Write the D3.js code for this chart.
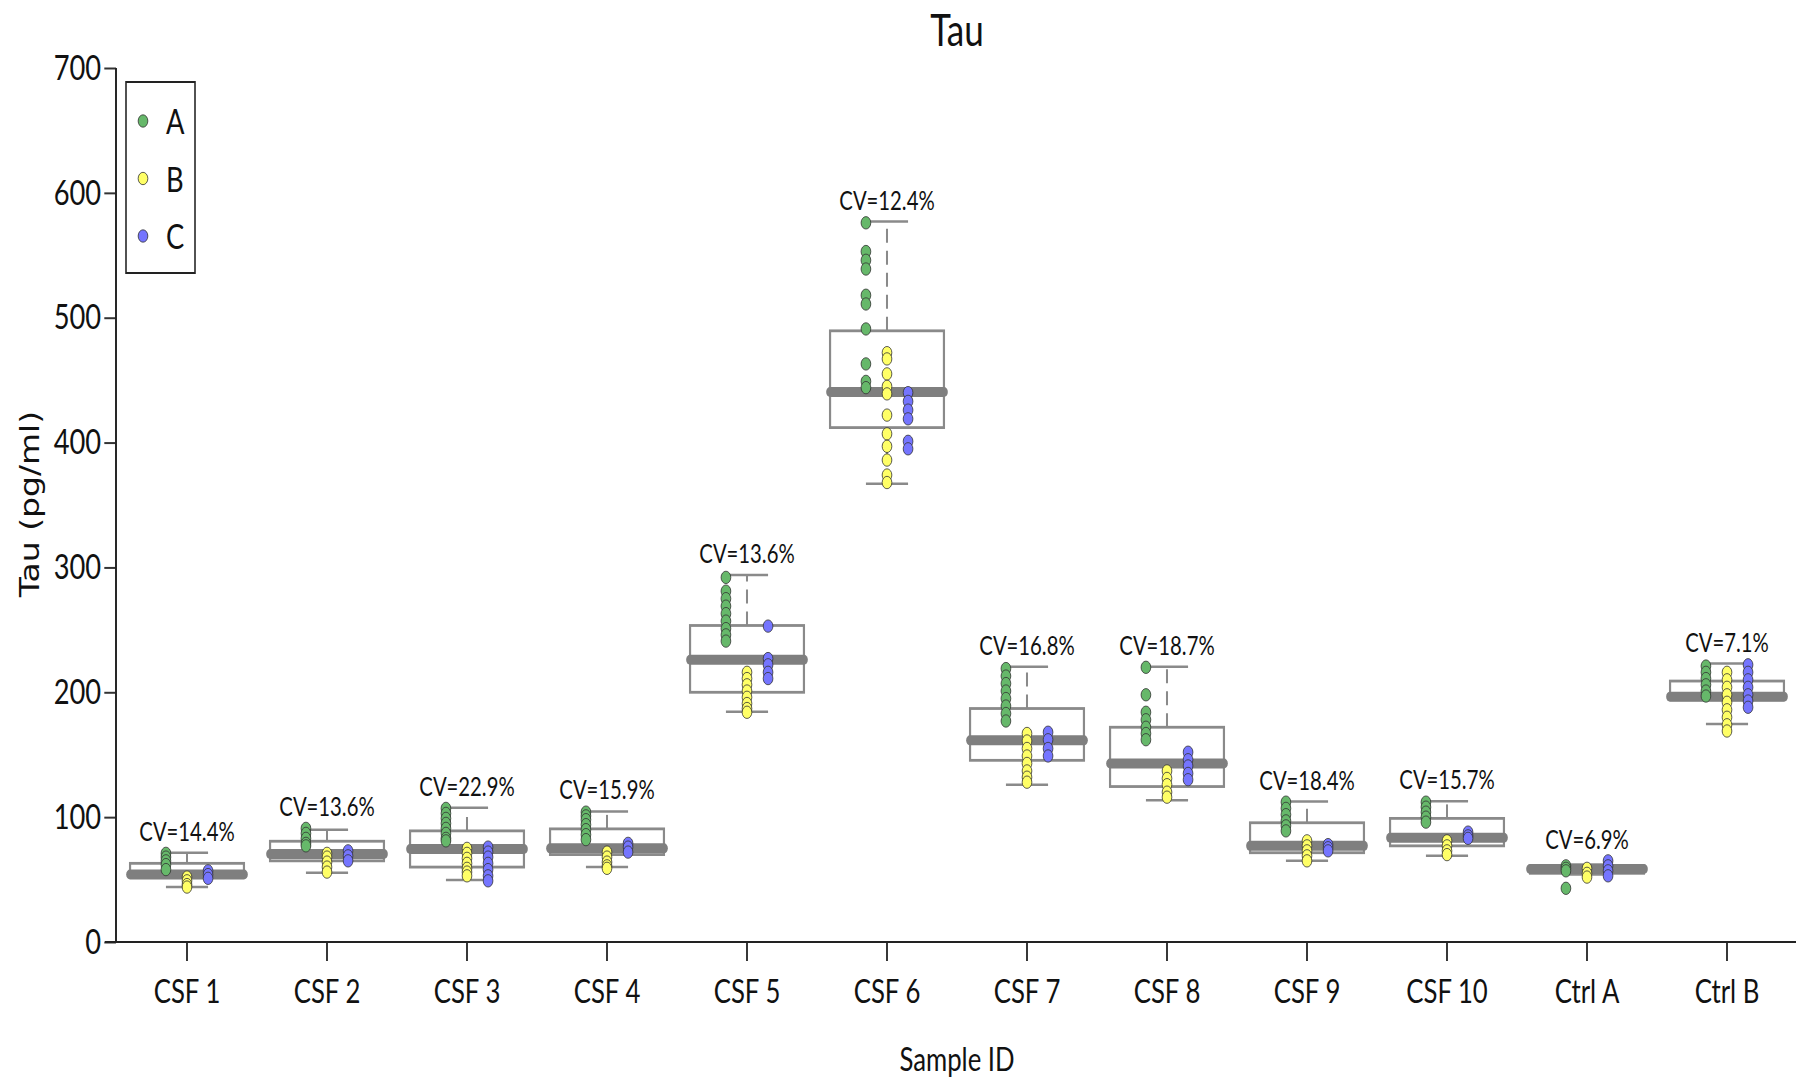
<!DOCTYPE html>
<html>
<head>
<meta charset="utf-8">
<script src="https://cdn.jsdelivr.net/npm/d3@7"></script>
<style>
  html, body { margin: 0; padding: 0; background: #fff; }
  text { font-family: Lato, "Open Sans", sans-serif; fill: #111; }
</style>
</head>
<body>
<div id="chart"></div>
<script>
// values
var categories = ['CSF 1','CSF 2','CSF 3','CSF 4','CSF 5','CSF 6','CSF 7','CSF 8','CSF 9','CSF 10','Ctrl A','Ctrl B']
var cvLabels = ['CV=14.4%','CV=13.6%','CV=22.9%','CV=15.9%','CV=13.6%','CV=12.4%','CV=16.8%','CV=18.7%','CV=18.4%','CV=15.7%','CV=6.9%','CV=7.1%']

var whiskerLow  = [44, 55.5, 49.6, 60, 184.5, 367, 126, 113.5, 65, 69, 54, 174.5]
var q1          = [52, 65, 60, 70, 200, 412, 145.5, 124.5, 71.5, 77, 55, 194]
var median      = [54, 70.5, 74.5, 75, 226, 440.5, 161.5, 143, 77, 83.5, 58.4, 196.5]
var q3          = [63, 80.7, 89, 90.6, 253.5, 489.5, 187, 172, 95.5, 99, 61, 209]
var whiskerHigh = [71.5, 90, 107.5, 104.6, 294, 577, 220.5, 220.5, 112.5, 112.8, 62, 223]

var seriesNames = ['A', 'B', 'C']
var seriesColors = ['#66b86a', '#ffff66', '#7575ff']

var seriesA = [
  [71, 68, 65, 62, 58],
  [91, 87, 83, 79, 77],
  [107, 103, 99, 95, 91, 87, 83, 81],
  [104, 101, 98, 94, 90, 86, 82],
  [292, 281, 275, 269, 263, 257, 251, 246, 241],
  [576, 553, 546, 539, 518, 511, 491, 463, 449, 444],
  [219, 213, 207, 201, 195, 189, 183, 177],
  [220, 198, 184, 178, 172, 167, 162],
  [112, 107, 102, 97, 93, 89],
  [112, 108, 104, 100, 96],
  [61, 59, 57, 43],
  [221, 216, 211, 206, 201, 197]
]
var seriesB = [
  [52, 49, 46, 44],
  [71, 68, 64, 60, 56],
  [75, 71, 67, 63, 59, 56, 53],
  [72, 68, 64, 61, 59],
  [216, 211, 206, 201, 196, 191, 187, 184],
  [472, 467, 455, 445, 439, 422, 407, 397, 386, 374, 368],
  [167, 161, 155, 149, 143, 137, 132, 128],
  [137, 131, 126, 120, 116],
  [81, 77, 73, 69, 65],
  [81, 77, 73, 70],
  [59, 55, 52],
  [216, 210, 204, 198, 192, 186, 180, 174, 169]
]
var seriesC = [
  [57, 54, 51],
  [73, 69, 65],
  [76, 72, 68, 63, 58, 53, 49],
  [79, 76, 72],
  [253, 227, 222, 216, 211],
  [440, 433, 426, 419, 401, 395],
  [168, 162, 155, 149],
  [152, 146, 141, 135, 130],
  [78, 75.5, 73],
  [88, 85, 83],
  [65, 61, 57, 53],
  [222, 216, 210, 204, 198, 193, 188]
]
var yTicks = [0, 100, 200, 300, 400, 500, 600, 700]

// the picture is squeezed sideways, so draw wide and let the viewBox squeeze it
var squeeze = 0.78
var width = 1796, height = 1081
var W = width / squeeze
function sx(v) { return v / squeeze }

var svg = d3.select('#chart')
  .append('svg')
  .attr('width', width)
  .attr('height', height)
  .attr('viewBox', '0 0 ' + W + ' ' + height)
  .attr('preserveAspectRatio', 'none')

var x = d3.scaleBand().domain(categories).range([sx(117), sx(1797)]).padding(0)
var y = d3.scaleLinear().domain([0, 700]).range([942, 68])
var offset = d3.scalePoint().domain(seriesNames).range([-27, 27])

var boxHalf = 73, capHalf = 27

// axes
var yAxis = svg.append('g')
  .attr('transform', 'translate(' + sx(116) + ',0)')
  .call(d3.axisLeft(y).tickValues(yTicks).tickSize(15).tickPadding(4))
yAxis.select('.domain').remove()
yAxis.selectAll('line').attr('stroke', '#333').attr('stroke-width', 2)
yAxis.selectAll('text').style('font-size', '35px').attr('fill', '#111')

svg.append('line')
  .attr('x1', sx(116)).attr('x2', sx(116))
  .attr('y1', y(700)).attr('y2', y(0))
  .attr('stroke', '#222').attr('stroke-width', 2.5)

var xAxis = svg.append('g')
  .attr('transform', 'translate(0,' + y(0) + ')')
  .call(d3.axisBottom(x).tickSize(19).tickPadding(19))
xAxis.select('.domain').remove()
xAxis.selectAll('line').attr('stroke', '#333').attr('stroke-width', 2.5)
xAxis.selectAll('text').style('font-size', '33px').attr('fill', '#111')

svg.append('line')
  .attr('x1', sx(105)).attr('x2', W)
  .attr('y1', y(0)).attr('y2', y(0))
  .attr('stroke', '#222').attr('stroke-width', 2)

// boxes
var boxes = svg.append('g').attr('class', 'boxes')
  .selectAll('g')
  .data(categories)
  .enter().append('g')
  .attr('transform', function(d) { return 'translate(' + (x(d) + x.bandwidth() / 2) + ',0)' })

boxes.append('line')
  .attr('y1', function(d, i) { return y(q3[i]) })
  .attr('y2', function(d, i) { return y(whiskerHigh[i]) })
  .attr('stroke', '#8a8a8a').attr('stroke-width', 2.6)
  .attr('stroke-dasharray', '14,8')
boxes.append('line')
  .attr('y1', function(d, i) { return y(q1[i]) })
  .attr('y2', function(d, i) { return y(whiskerLow[i]) })
  .attr('stroke', '#8a8a8a').attr('stroke-width', 2.6)
  .attr('stroke-dasharray', '14,8')

boxes.append('line')
  .attr('x1', -capHalf).attr('x2', capHalf)
  .attr('y1', function(d, i) { return y(whiskerHigh[i]) })
  .attr('y2', function(d, i) { return y(whiskerHigh[i]) })
  .attr('stroke', '#8a8a8a').attr('stroke-width', 2.5)
boxes.append('line')
  .attr('x1', -capHalf).attr('x2', capHalf)
  .attr('y1', function(d, i) { return y(whiskerLow[i]) })
  .attr('y2', function(d, i) { return y(whiskerLow[i]) })
  .attr('stroke', '#8a8a8a').attr('stroke-width', 2.5)

boxes.append('rect')
  .attr('x', -boxHalf)
  .attr('width', boxHalf * 2)
  .attr('y', function(d, i) { return y(q3[i]) })
  .attr('height', function(d, i) { return y(q1[i]) - y(q3[i]) })
  .attr('fill', 'white')
  .attr('stroke', '#8a8a8a').attr('stroke-width', 2.8)

boxes.append('line')
  .attr('x1', -boxHalf).attr('x2', boxHalf)
  .attr('y1', function(d, i) { return y(median[i]) })
  .attr('y2', function(d, i) { return y(median[i]) })
  .attr('stroke', '#7f7f7f').attr('stroke-width', 10)
  .attr('stroke-linecap', 'round')

// points
var allSeries = [seriesA, seriesB, seriesC]
allSeries.forEach(function(series, s) {
  boxes.append('g')
    .selectAll('circle')
    .data(function(d, i) { return series[i] })
    .enter().append('circle')
    .attr('cx', offset(seriesNames[s]))
    .attr('cy', function(v) { return y(v) })
    .attr('r', 6.2)
    .attr('fill', seriesColors[s])
    .attr('stroke', '#333')
    .attr('stroke-width', 0.9)
})

// CV labels above each group
boxes.append('text')
  .attr('text-anchor', 'middle')
  .attr('y', function(d, i) {
    var top = d3.max([whiskerHigh[i], d3.max(seriesA[i]), d3.max(seriesB[i]), d3.max(seriesC[i])])
    return y(top) - 12
  })
  .style('font-size', '26px')
  .text(function(d, i) { return cvLabels[i] })

// legend
var legend = svg.append('g').attr('class', 'legend')
legend.append('rect')
  .attr('x', sx(126)).attr('y', 82)
  .attr('width', sx(195) - sx(126)).attr('height', 191)
  .attr('fill', 'white').attr('stroke', '#222').attr('stroke-width', 2)

var legendRows = legend.selectAll('g.row')
  .data(seriesNames)
  .enter().append('g')
  .attr('class', 'row')
  .attr('transform', function(d, i) { return 'translate(0,' + (121 + i * 57.5) + ')' })
legendRows.append('circle')
  .attr('cx', sx(143)).attr('r', 6.2)
  .attr('fill', function(d, i) { return seriesColors[i] })
  .attr('stroke', '#333').attr('stroke-width', 0.9)
legendRows.append('text')
  .attr('x', sx(166)).attr('dy', '0.38em')
  .style('font-size', '35px')
  .text(function(d) { return d })

// titles
var midX = (x.range()[0] + x.range()[1]) / 2
svg.append('text')
  .attr('x', midX).attr('y', 46)
  .attr('text-anchor', 'middle')
  .style('font-size', '45px')
  .text('Tau')

svg.append('text')
  .attr('x', midX).attr('y', 1071)
  .attr('text-anchor', 'middle')
  .style('font-size', '33px')
  .text('Sample ID')

svg.append('text')
  .attr('transform', 'translate(' + sx(30) + ',504) rotate(-90)')
  .attr('text-anchor', 'middle')
  .attr('dominant-baseline', 'central')
  .style('font-family', '"DejaVu Sans", sans-serif')
  .style('font-size', '33px')
  .attr('fill', '#222')
  .text('Tau (pg/ml)')
</script>
</body>
</html>
